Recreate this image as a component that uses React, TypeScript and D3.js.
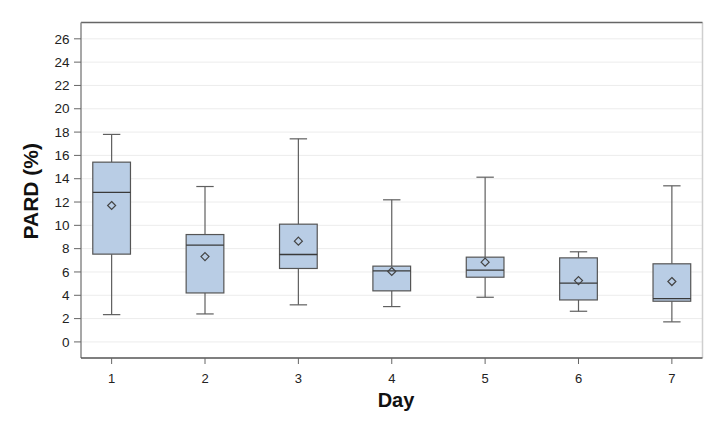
import React from "react";
import * as d3 from "d3";

const days = ["1", "2", "3", "4", "5", "6", "7"];
const whiskerLow = [2.34, 2.4, 3.18, 3.03, 3.83, 2.63, 1.72];
const q1 = [7.53, 4.2, 6.3, 4.38, 5.55, 3.6, 3.49];
const median = [12.82, 8.3, 7.5, 6.09, 6.15, 5.04, 3.72];
const q3 = [15.42, 9.21, 10.1, 6.5, 7.27, 7.21, 6.7];
const whiskerHigh = [17.8, 13.33, 17.42, 12.19, 14.13, 7.73, 13.39];
const means = [11.7, 7.32, 8.64, 6.04, 6.84, 5.26, 5.18];
const yTicks = [0, 2, 4, 6, 8, 10, 12, 14, 16, 18, 20, 22, 24, 26];

const W = 724;
const H = 422;
const left = 81;
const right = 702.5;
const top = 22.5;
const bottom = 358;

export default function App() {
  const x = d3.scalePoint<string>().domain(days).range([left, right]).padding(0.328);
  const y = d3.scaleLinear().domain([-1.38, 27.4]).range([bottom, top]);
  const boxW = 37.7;
  const capW = 17.4;
  const font = "'Liberation Sans', Arial, sans-serif";
  const stroke = "#555555";

  return (
    <svg width={W} height={H} style={{ position: "absolute", left: 0, top: 0, background: "#fff" }}>
      {/* grid */}
      {yTicks.map((t) => (
        <line key={"g" + t} x1={left} x2={right} y1={y(t)} y2={y(t)} stroke="#ececec" strokeWidth={1} />
      ))}
      {/* boxes */}
      {days.map((d, i) => {
        const cx = x(d)!;
        return (
          <g key={"b" + d}>
            <line x1={cx} x2={cx} y1={y(whiskerHigh[i])} y2={y(q3[i])} stroke="#5f5f5f" strokeWidth={1.2} />
            <line x1={cx} x2={cx} y1={y(q1[i])} y2={y(whiskerLow[i])} stroke="#5f5f5f" strokeWidth={1.2} />
            <line x1={cx - capW / 2} x2={cx + capW / 2} y1={y(whiskerHigh[i])} y2={y(whiskerHigh[i])} stroke="#5f5f5f" strokeWidth={1.2} />
            <line x1={cx - capW / 2} x2={cx + capW / 2} y1={y(whiskerLow[i])} y2={y(whiskerLow[i])} stroke="#5f5f5f" strokeWidth={1.2} />
            <rect x={cx - boxW / 2} y={y(q3[i])} width={boxW} height={y(q1[i]) - y(q3[i])} fill="#b9cde5" stroke={stroke} strokeWidth={1.2} />
            <line x1={cx - boxW / 2} x2={cx + boxW / 2} y1={y(median[i])} y2={y(median[i])} stroke="#3a3a3a" strokeWidth={1.3} />
            <path
              d={`M${cx},${y(means[i]) - 4} L${cx + 4},${y(means[i])} L${cx},${y(means[i]) + 4} L${cx - 4},${y(means[i])} Z`}
              fill="none"
              stroke="#444"
              strokeWidth={1.2}
            />
          </g>
        );
      })}
      {/* frame */}
      <line x1={right} x2={right} y1={top} y2={bottom} stroke="#cfcfcf" strokeWidth={1.5} />
      <line x1={left} x2={right} y1={top} y2={top} stroke="#666" strokeWidth={1.5} />
      <line x1={left} x2={left} y1={top} y2={bottom} stroke="#8a8a8a" strokeWidth={1.5} />
      <line x1={left} x2={right} y1={bottom} y2={bottom} stroke="#555" strokeWidth={1.5} />
      {/* y ticks */}
      {yTicks.map((t) => (
        <g key={"yt" + t}>
          <line x1={left - 7} x2={left} y1={y(t)} y2={y(t)} stroke="#666" strokeWidth={1} />
          <text x={left - 11.5} y={y(t)} dy="0.35em" textAnchor="end" fontFamily={font} fontSize={13.5} fill="#222">
            {t}
          </text>
        </g>
      ))}
      {/* x ticks */}
      {days.map((d) => (
        <g key={"xt" + d}>
          <line x1={x(d)!} x2={x(d)!} y1={bottom} y2={bottom + 6} stroke="#666" strokeWidth={1} />
          <text x={x(d)!} y={383} textAnchor="middle" fontFamily={font} fontSize={13} fill="#222">
            {d}
          </text>
        </g>
      ))}
      <text x={396} y={407} textAnchor="middle" fontFamily={font} fontSize={20} fontWeight="bold" fill="#111">
        Day
      </text>
      <text
        transform={`translate(38,${(top + bottom) / 2 + 1}) rotate(-90)`}
        textAnchor="middle"
        fontFamily={font}
        fontSize={21}
        fontWeight="bold"
        fill="#111"
      >
        PARD (%)
      </text>
    </svg>
  );
}
